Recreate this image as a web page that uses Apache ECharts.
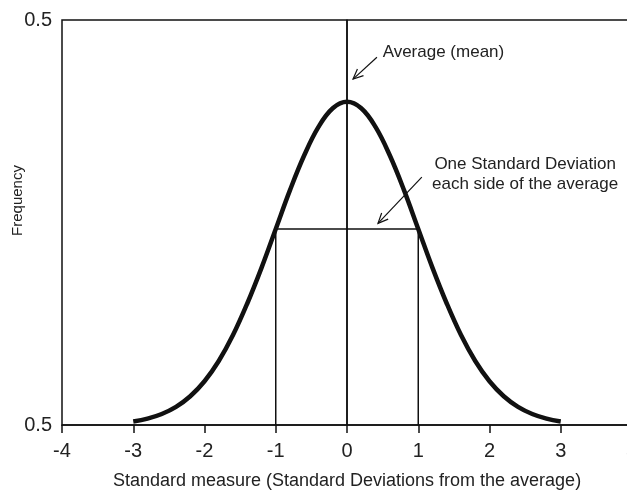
<!DOCTYPE html>
<html>
<head>
<meta charset="utf-8">
<script src="https://cdn.jsdelivr.net/npm/echarts@6/dist/echarts.min.js"></script>
<style>html,body{margin:0;padding:0;background:#fff;}#c{width:627px;height:490px;}</style>
</head>
<body>
<div id="c"></div>
<script>
// ---- data ----
const xTicks = [-4, -3, -2, -1, 0, 1, 2, 3, 4];
const yTickLabels = ['0.5', '0.5'];
const curveX = [-3, -2.8, -2.6, -2.4, -2.2, -2, -1.8, -1.6, -1.4, -1.2, -1, -0.8, -0.6, -0.4, -0.2, 0,
                0.2, 0.4, 0.6, 0.8, 1, 1.2, 1.4, 1.6, 1.8, 2, 2.2, 2.4, 2.6, 2.8, 3];
const curveY = [0.0044, 0.0079, 0.0136, 0.0224, 0.0355, 0.054, 0.079, 0.111, 0.150, 0.194, 0.242, 0.290, 0.333, 0.368, 0.391, 0.399,
                0.391, 0.368, 0.333, 0.290, 0.242, 0.194, 0.150, 0.111, 0.079, 0.054, 0.0355, 0.0224, 0.0136, 0.0079, 0.0044];
const meanLineX = [0, 0];
const meanLineY = [0, 0.5];
const sdBoxX = [-1, -1, 1, 1];
const sdBoxY = [0, 0.242, 0.242, 0];
const annotTexts = ['Average (mean)', 'One Standard Deviation\neach side of the average'];
const annotX = [0.50, 2.5];
const annotY = [0.460, 0.309];
const arrowFromX = [0.42, 1.05];
const arrowFromY = [0.454, 0.306];
const arrowToX = [0.085, 0.435];
const arrowToY = [0.427, 0.249];

const FONT = 'Liberation Sans, Arial, Helvetica, sans-serif';
const zip = (a, b) => a.map((v, i) => [v, b[i]]);

const chart = echarts.init(document.getElementById('c'), null, {renderer: 'canvas'});
chart.setOption({
  animation: false,
  backgroundColor: '#fff',
  grid: {left: 62, right: -5, top: 20, bottom: 65, show: true, borderColor: '#111', borderWidth: 1.5,
         containLabel: false, outerBoundsMode: 'none'},
  xAxis: {
    type: 'value', min: -4, max: 4, interval: 1,
    name: 'Standard measure (Standard Deviations from the average)',
    nameLocation: 'middle', nameGap: 47, nameMoveOverlap: false,
    nameTextStyle: {fontFamily: FONT, fontSize: 18, color: '#222'},
    axisLine: {show: true, onZero: false, lineStyle: {color: '#111', width: 1.5}},
    axisTick: {show: true, inside: false, length: 8, lineStyle: {color: '#111', width: 1.5}},
    axisLabel: {fontFamily: FONT, fontSize: 20, color: '#222', margin: 16, formatter: v => String(v)},
    splitLine: {show: false}
  },
  yAxis: {
    type: 'value', min: 0, max: 0.5, interval: 0.5,
    name: 'Frequency', nameLocation: 'middle', nameGap: 37, nameMoveOverlap: false,
    nameTextStyle: {fontFamily: FONT, fontSize: 15, color: '#222', padding: [0, 0, 0, 44]},
    axisLine: {show: true, lineStyle: {color: '#111', width: 1.5}},
    axisTick: {show: false},
    axisLabel: {fontFamily: FONT, fontSize: 20, color: '#222', margin: 10,
      formatter: (v) => yTickLabels[Math.round(v / 0.5)]},
    splitLine: {show: false}
  },
  series: [
    {type: 'line', data: zip(meanLineX, meanLineY), symbol: 'none', lineStyle: {color: '#111', width: 1.5}, z: 2},
    {type: 'line', data: zip(sdBoxX, sdBoxY), symbol: 'none', lineStyle: {color: '#111', width: 1.5}, z: 2},
    {type: 'line', data: zip(curveX, curveY), symbol: 'none', smooth: 0.4,
      lineStyle: {color: '#111', width: 4.5, cap: 'butt'}, z: 3},
    {
      type: 'custom', z: 4,
      data: annotTexts.map((t, i) => [arrowFromX[i], arrowFromY[i], arrowToX[i], arrowToY[i], annotX[i], annotY[i], i]),
      renderItem: function (params, api) {
        const p0 = api.coord([api.value(0), api.value(1)]);
        const p1 = api.coord([api.value(2), api.value(3)]);
        const pt = api.coord([api.value(4), api.value(5)]);
        const i = api.value(6);
        const ang = Math.atan2(p1[1] - p0[1], p1[0] - p0[0]);
        const L = 11, a = 0.42;
        const h1 = [p1[0] - L * Math.cos(ang - a), p1[1] - L * Math.sin(ang - a)];
        const h2 = [p1[0] - L * Math.cos(ang + a), p1[1] - L * Math.sin(ang + a)];
        return {
          type: 'group',
          children: [
            {type: 'line', shape: {x1: p0[0], y1: p0[1], x2: p1[0], y2: p1[1]}, style: {stroke: '#111', lineWidth: 1.2}},
            {type: 'polyline', shape: {points: [h1, p1, h2]}, style: {stroke: '#111', lineWidth: 1.2, fill: null}},
            {type: 'text', x: pt[0], y: pt[1], style: {
              text: annotTexts[i], fontFamily: FONT, fontSize: 17, fill: '#222', lineHeight: 20,
              align: i === 0 ? 'left' : 'center', verticalAlign: 'middle'}}
          ]
        };
      }
    }
  ]
});
</script>
</body>
</html>
